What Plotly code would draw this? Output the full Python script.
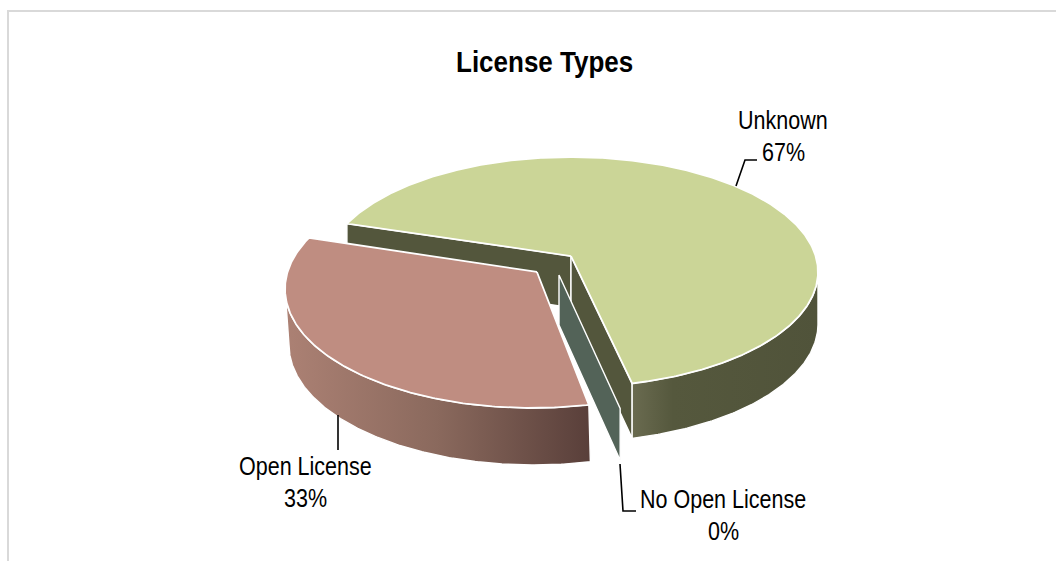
import math
import plotly.graph_objects as go

title = "License Types"
labels = ["Unknown", "No Open License", "Open License"]
values = [66.7, 0, 33.3]
pct_text = ["67%", "0%", "33%"]

START_ANGLE = 162.6  # degrees, counter-clockwise from 3 o'clock; slices run clockwise
FONT = "Liberation Sans, Arial, sans-serif"

# Per-slice drawing geometry: exploded ellipse for the top and bottom faces
geom = {
    "Unknown": dict(top=(571, 272, 247, 115), bot=(571, 324, 247, 118), k=(0.0, 0.139), trim=0),
    "No Open License": dict(top=(559, 291.7, 247, 120.5), bot=(559, 342, 247, 122), k=(0.0, 0.139), trim=0),
    "Open License": dict(top=(532, 289, 247, 119), bot=(534, 345, 245, 120), k=(0.02, 0.143), trim=-2),
}
styles = {
    "Unknown": dict(top="#CBD597", wall="#53563C",
                    grad=[[0, "#6A6B50"], [0.22, "#55583D"], [1, "#50533A"]]),
    "No Open License": dict(top="#536358", wall="#536358", grad=None),
    "Open License": dict(top="#BF8D81", wall="#8F6D62",
                         grad=[[0, "#AC8174"], [0.5, "#8A695D"], [1, "#593F3A"]]),
}


def project(theta_deg, ell, k):
    """Map a point of the pie's circle to the page through a perspective transform."""
    t = math.radians(theta_deg)
    p = (math.cos(t), math.sin(t))
    kk = k[0] ** 2 + k[1] ** 2
    dot = p[0] * k[0] + p[1] * k[1]
    s = math.sqrt(1 - kk)
    par = (dot / kk * k[0], dot / kk * k[1])
    perp = (p[0] - par[0], p[1] - par[1])
    d = 1 + dot
    X = (k[0] + par[0] + s * perp[0]) / d
    Y = (k[1] + par[1] + s * perp[1]) / d
    return ell[0] + ell[2] * X, ell[1] - ell[3] * Y


def apex(ell, k):
    return ell[0] + ell[2] * k[0], ell[1] - ell[3] * k[1]


def poly(points, color=None, grad=None, lw=1.4):
    xs = [p[0] for p in points] + [points[0][0]]
    ys = [p[1] for p in points] + [points[0][1]]
    kw = dict(fillcolor=color)
    if grad:
        kw = dict(fillgradient=dict(type="horizontal", colorscale=grad))
    return go.Scatter(x=xs, y=ys, mode="lines", fill="toself", hoverinfo="skip",
                      line=dict(color="white", width=lw), showlegend=False, **kw)


# Angular spans from the values
total = sum(values)
spans = {}
a = START_ANGLE
for name, v in zip(labels, values):
    b = a - 360 * v / total
    spans[name] = (a + geom[name]["trim"], b)
    a = b

fig = go.Figure()


def slice_traces(name, inner_walls):
    g, st = geom[name], styles[name]
    a0, a1 = spans[name]
    steps = max(2, int(abs(a0 - a1) * 2))
    angles = [a0 + (a1 - a0) * i / steps for i in range(steps + 1)]
    # inner cut faces
    for ang in inner_walls:
        fig.add_trace(poly([apex(g["top"], g["k"]), project(ang, g["top"], g["k"]),
                            project(ang, g["bot"], g["k"]), apex(g["bot"], g["k"])],
                           color=st["wall"]))
    if a0 == a1:
        return
    # outer rim: only the part facing the viewer
    front = [t for t in angles if project(t, g["top"], g["k"])[1] >= g["top"][1]]
    rim = [project(t, g["top"], g["k"]) for t in front]
    low = [project(t, g["bot"], g["k"]) for t in front]
    fig.add_trace(poly(rim + low[::-1], grad=st["grad"]))
    # top face
    pts = [apex(g["top"], g["k"])] + [project(t, g["top"], g["k"]) for t in angles]
    fig.add_trace(poly(pts, color=st["top"], lw=1.8))


slice_traces("Unknown", [spans["Unknown"][0], spans["Unknown"][1]])
slice_traces("No Open License", [spans["No Open License"][0]])
slice_traces("Open License", [])

# Leader lines
leaders = {
    "Unknown": ([736, 745, 757], [186, 160, 160]),
    "Open License": ([338, 338], [415, 450]),
    "No Open License": ([620, 623, 636], [464, 511, 511]),
}
for name, (lx, ly) in leaders.items():
    fig.add_trace(go.Scatter(x=lx, y=ly, mode="lines", hoverinfo="skip", showlegend=False,
                             line=dict(color="#000000", width=1.6)))

# Data labels
label_pos = {"Unknown": (783, 121, 153), "Open License": (305, 467, 499), "No Open License": (723, 500, 532)}
annotations = []
for name, pct in zip(labels, pct_text):
    x, y1, y2 = label_pos[name]
    for txt, yy in ((name, y1), (pct, y2)):
        annotations.append(dict(x=x, y=yy, xref="x", yref="y", text=txt, showarrow=False,
                                font=dict(family=FONT, size=21.5, color="#000000")))
annotations.append(dict(x=544, y=62, xref="x", yref="y", text=f"<b>{title}</b>", showarrow=False,
                        font=dict(family=FONT, size=26, color="#000000")))

fig.update_layout(
    width=1056, height=561, margin=dict(l=0, r=0, t=0, b=0),
    paper_bgcolor="white", plot_bgcolor="white", showlegend=False,
    xaxis=dict(range=[0, 1056], visible=False, fixedrange=True),
    yaxis=dict(range=[561, 0], visible=False, fixedrange=True),
    annotations=annotations,
    shapes=[
        dict(type="line", x0=8, x1=8, y0=10, y1=561, xref="x", yref="y", line=dict(color="#D9D9D9", width=2)),
        dict(type="line", x0=7, x1=1056, y0=11, y1=11, xref="x", yref="y", line=dict(color="#D9D9D9", width=2)),
    ],
)

# The reference type is a condensed face: keep each text's width, make the glyphs taller.
condense = """
document.body.style.margin='0';document.body.style.overflow='hidden';
document.querySelectorAll('text.annotation-text').forEach(function(t){
  var w=t.getComputedTextLength();
  var fs=parseFloat(t.style.fontSize);
  var big=fs>24;
  t.style.fontSize=(big?29:25)+'px';
  t.setAttribute('textLength',w);
  t.setAttribute('lengthAdjust','spacingAndGlyphs');
  t.setAttribute('y',parseFloat(t.getAttribute('y'))+1);
});
"""
fig.write_html("out.html", config=dict(displayModeBar=False), post_script=condense)
